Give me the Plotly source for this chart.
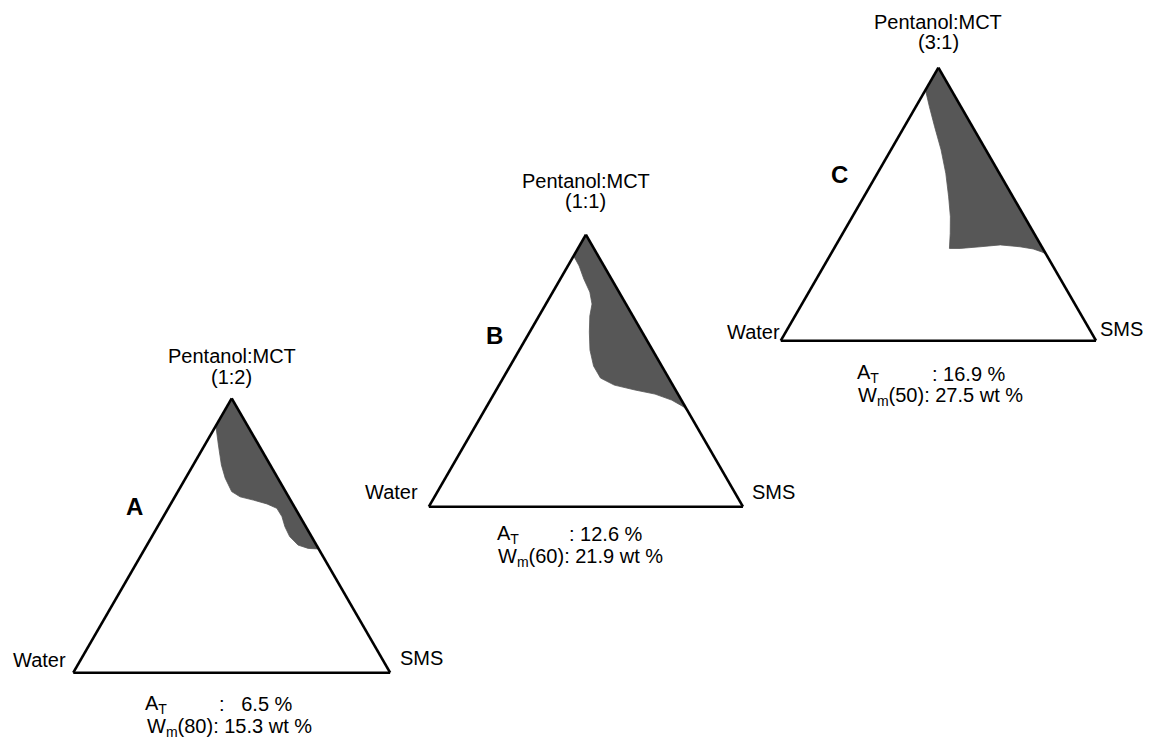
import plotly.graph_objects as go

# ---------------- data (ternary compositions, %) ----------------
# a = Pentanol:MCT (top), b = Water (bottom-left), c = SMS (bottom-right)
panel_letters = ["A", "B", "C"]
ratio_labels = ["(1:2)", "(1:1)", "(3:1)"]
top_label = "Pentanol:MCT"
left_label = "Water"
right_label = "SMS"
at_values = ["6.5 %", "12.6 %", "16.9 %"]
wm_temps = ["80", "60", "50"]
wm_values = ["15.3", "21.9", "27.5"]

regionA_oil = [100, 90.0, 83.0, 75.7, 70.9, 66.0, 64.1, 62.9, 61.5, 59.9, 56.9, 53.2, 49.6, 46.5, 45.3, 45.1, 100]
regionA_water = [0, 10.0, 12.7, 15.4, 16.6, 17.0, 15.3, 11.7, 8.1, 5.8, 5.7, 6.6, 6.9, 5.8, 3.2, 0, 0]
regionA_sms = [0, 0, 4.3, 8.9, 12.5, 17.0, 20.6, 25.4, 30.4, 34.3, 37.4, 40.2, 43.5, 47.7, 51.5, 54.9, 0]

regionB_oil = [100, 92.2, 88.5, 83.7, 78.9, 74.5, 70.1, 64.2, 57.6, 51.7, 47.3, 44.7, 42.9, 41.4, 39.2, 36.7, 34.8, 100]
regionB_water = [0, 7.8, 7.9, 8.8, 9.3, 10.8, 13.7, 16.8, 19.9, 21.7, 21.7, 18.6, 12.9, 7.3, 3.1, 0.5, 0, 0]
regionB_sms = [0, 0, 3.6, 7.5, 11.8, 14.7, 16.2, 19.0, 22.5, 26.6, 31.0, 36.7, 44.2, 51.3, 57.7, 62.8, 65.2, 0]

regionC_oil = [100, 91.8, 85.7, 78.4, 69.9, 61.3, 52.7, 45.4, 39.3, 33.8, 33.8, 34.4, 35.1, 34.4, 33.6, 32.5, 31.8, 100]
regionC_water = [0, 8.2, 10.0, 12.0, 14.2, 17.0, 20.4, 23.5, 26.6, 29.6, 26.2, 19.6, 12.8, 6.9, 3.1, 0.9, 0, 0]
regionC_sms = [0, 0, 4.3, 9.6, 15.9, 21.7, 26.9, 31.1, 34.1, 36.6, 40.0, 46.0, 52.1, 58.7, 63.3, 66.6, 68.2, 0]

regions = [
    (regionA_oil, regionA_water, regionA_sms),
    (regionB_oil, regionB_water, regionB_sms),
    (regionC_oil, regionC_water, regionC_sms),
]

# ---------------- layout geometry (screen pixels) ----------------
FW, FH = 1151, 738
PAGE_OFF = 8  # default body margin of the html page
# triangle: (center x, top y, base y)
tri_geom = [(231.7, 398.3, 672.7), (585.9, 234.7, 506.7), (938.4, 67.7, 340.7)]
title_y = [(356, 377), (180.5, 201), (22.5, 42)]
water_pos = [(66, 659.5), (418, 491.5), (780, 331.5)]
sms_pos = [(400, 658), (752, 491.5), (1100, 329)]
letter_pos = [(134.5, 507), (494, 335), (839, 175)]
at_pos = [(145, 219, 704), (497.3, 569, 534), (856.7, 932, 374)]
wm_pos = [(146.7, 727), (498.3, 557), (858.3, 396)]
at_pad = ["\u00a0\u00a0\u00a0", "\u00a0", "\u00a0"]

FONT = "Liberation Sans, Arial, Helvetica, sans-serif"
FILL = "#575757"


def px(x):
    return (x - PAGE_OFF) / FW


def py(y):
    return 1 - (y - PAGE_OFF) / FH


fig = go.Figure()
layout_update = {}
annotations = []


def ann(text, x, y, xanchor="center", size=20, yanchor="middle"):
    annotations.append(dict(
        text=text, x=px(x), y=py(y), xref="paper", yref="paper",
        xanchor=xanchor, yanchor=yanchor, showarrow=False,
        font=dict(family=FONT, size=size, color="black"),
        borderpad=0, borderwidth=0,
    ))


for i in range(3):
    key = "ternary" if i == 0 else f"ternary{i + 1}"
    cx, ytop, ybase = tri_geom[i]
    h = ybase - ytop
    w = h * 2 / 3 ** 0.5
    axis_style = dict(showline=True, linecolor="black", linewidth=2.6,
                      showgrid=False, ticks="", showticklabels=False,
                      title=dict(text=""), min=0)
    layout_update[key] = dict(
        sum=100,
        domain=dict(x=[px(cx - w / 2), px(cx + w / 2)], y=[py(ybase), py(ytop)]),
        bgcolor="white",
        aaxis=axis_style, baxis=axis_style, caxis=axis_style,
    )
    oil, water, sms = regions[i]
    fig.add_trace(go.Scatterternary(
        a=oil, b=water, c=sms, mode="lines", fill="toself",
        fillcolor=FILL, line=dict(color=FILL, width=0.8),
        subplot=key, showlegend=False, hoverinfo="skip",
    ))

    ann(top_label, cx, title_y[i][0])
    ann(ratio_labels[i], cx, title_y[i][1])
    ann(left_label, water_pos[i][0], water_pos[i][1], xanchor="right")
    ann(right_label, sms_pos[i][0], sms_pos[i][1], xanchor="left")
    ann(f"<b>{panel_letters[i]}</b>", letter_pos[i][0], letter_pos[i][1], size=24)
    ann("A<sub>T</sub>", at_pos[i][0], at_pos[i][2], xanchor="left")
    ann(":" + at_pad[i] + at_values[i], at_pos[i][1], at_pos[i][2], xanchor="left")
    ann(f"W<sub>m</sub>({wm_temps[i]}): {wm_values[i]} wt %", wm_pos[i][0], wm_pos[i][1], xanchor="left")

fig.update_layout(
    width=FW, height=FH,
    margin=dict(l=0, r=0, t=0, b=0),
    paper_bgcolor="white", plot_bgcolor="white",
    annotations=annotations,
    showlegend=False,
    **layout_update,
)

fig.write_html("out.html", config={"displayModeBar": False})
